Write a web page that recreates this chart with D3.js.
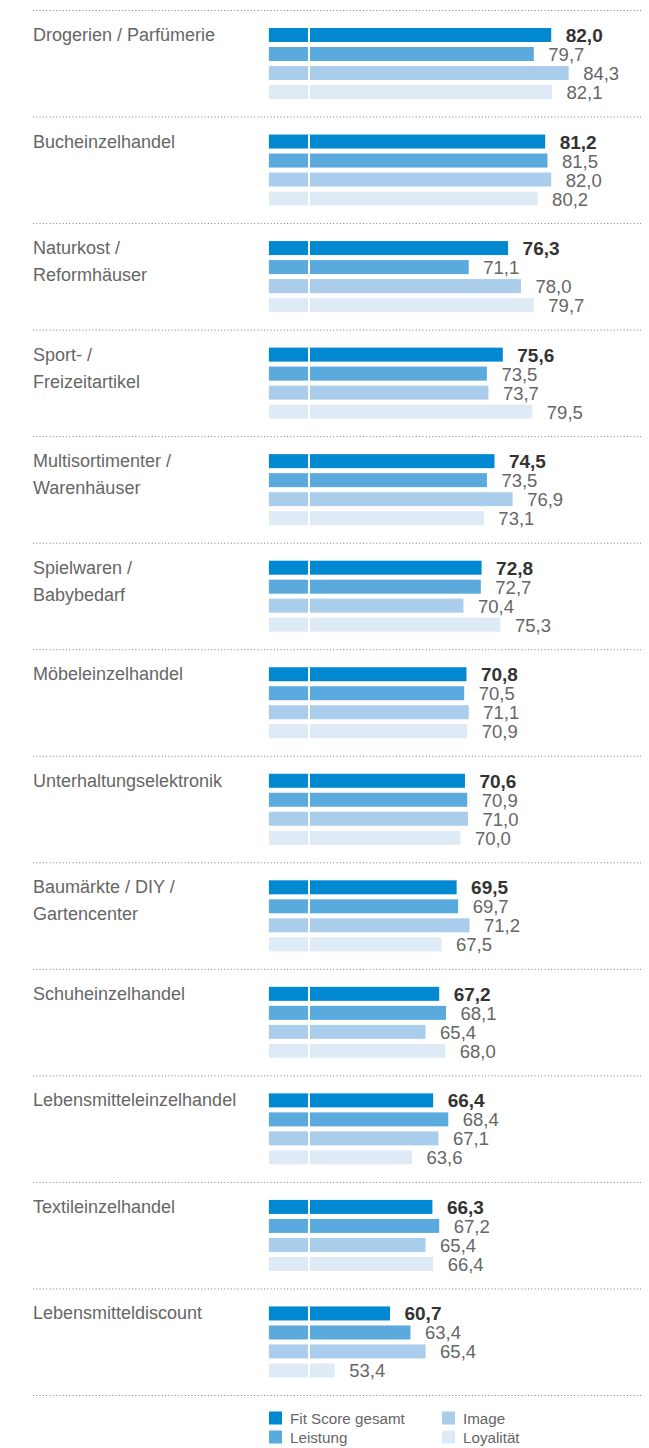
<!DOCTYPE html>
<html>
<head>
<meta charset="utf-8">
<script src="https://cdn.jsdelivr.net/npm/d3@7"></script>
<style>
  body { margin: 0; background: #fff; }
  text { font-family: "Liberation Sans", Arial, sans-serif; }
</style>
</head>
<body>
<div id="chart"></div>
<script>
let categories = [
  ["Drogerien / Parfümerie"],
  ["Bucheinzelhandel"],
  ["Naturkost /", "Reformhäuser"],
  ["Sport- /", "Freizeitartikel"],
  ["Multisortimenter /", "Warenhäuser"],
  ["Spielwaren /", "Babybedarf"],
  ["Möbeleinzelhandel"],
  ["Unterhaltungselektronik"],
  ["Baumärkte / DIY /", "Gartencenter"],
  ["Schuheinzelhandel"],
  ["Lebensmitteleinzelhandel"],
  ["Textileinzelhandel"],
  ["Lebensmitteldiscount"]
];
let series = ["Fit Score gesamt", "Leistung", "Image", "Loyalität"];
let fitScore = [82.0, 81.2, 76.3, 75.6, 74.5, 72.8, 70.8, 70.6, 69.5, 67.2, 66.4, 66.3, 60.7];
let leistung = [79.7, 81.5, 71.1, 73.5, 73.5, 72.7, 70.5, 70.9, 69.7, 68.1, 68.4, 67.2, 63.4];
let image    = [84.3, 82.0, 78.0, 73.7, 76.9, 70.4, 71.1, 71.0, 71.2, 65.4, 67.1, 65.4, 65.4];
let loyal    = [82.1, 80.2, 79.7, 79.5, 73.1, 75.3, 70.9, 70.0, 67.5, 68.0, 63.6, 66.4, 53.4];
let axisMin = 44.7, breakAt = 50;

let colorMap = {"Fit Score gesamt": "#0088d0", "Leistung": "#5aaadd", "Image": "#aacdec", "Loyalität": "#deebf7"};

let width = 649, height = 1448;

let svg = d3.select("#chart")
            .append("svg")
            .attr("width", width)
            .attr("height", height);

let names = categories.map(function(c) { return c.join(" "); });
let rows = names.map(function(n, i) {
  return {name: n, lines: categories[i],
          values: [fitScore[i], leistung[i], image[i], loyal[i]]};
});

let y = d3.scaleBand()
          .domain(names)
          .range([10, 1395])
          .paddingInner(0).paddingOuter(0);

let yIn = d3.scaleBand()
            .domain(series)
            .range([18, 89])
            .paddingInner(5 / 19)
            .paddingOuter(0);

let x = d3.scaleLinear()
          .domain([50, 85])
          .range([309, 309 + 35 * 7.57]);

// dotted separators
let seps = names.concat(["end"]);
svg.selectAll(".sep")
   .data(seps)
   .enter().append("line")
    .attr("class", "sep")
    .attr("x1", 33)
    .attr("x2", 641)
    .attr("y1", function(d) { return (d == "end" ? 1395 : y(d)) + 0.5; })
    .attr("y2", function(d) { return (d == "end" ? 1395 : y(d)) + 0.5; })
    .attr("stroke", "#7a7a7a")
    .attr("stroke-width", 1)
    .attr("stroke-dasharray", "1,2.3");

let g = svg.selectAll(".group")
           .data(rows)
           .enter().append("g")
           .attr("class", "group")
           .attr("transform", function(d) { return "translate(0," + y(d.name) + ")"; });

g.selectAll(".catlabel")
 .data(function(d) { return d.lines; })
 .enter().append("text")
  .attr("class", "catlabel")
  .attr("x", 33)
  .attr("y", function(d, i) { return 31 + i * 27; })
  .attr("font-size", "18px")
  .attr("fill", "#666")
  .text(function(d) { return d; });

g.selectAll(".bar")
 .data(function(d) { return d.values.map(function(v, i) { return {s: series[i], v: v}; }); })
 .enter().append("rect")
  .attr("class", "bar")
  .attr("x", x(axisMin))
  .attr("y", function(d) { return yIn(d.s); })
  .attr("width", function(d) { return x(d.v) - x(axisMin); })
  .attr("height", yIn.bandwidth())
  .attr("fill", function(d) { return colorMap[d.s]; });

// white break line at 50
g.append("rect")
 .attr("x", x(breakAt) - 1)
 .attr("y", yIn(series[0]))
 .attr("width", 2)
 .attr("height", yIn(series[3]) + yIn.bandwidth() - yIn(series[0]))
 .attr("fill", "#fff");

g.selectAll(".val")
 .data(function(d) { return d.values.map(function(v, i) { return {s: series[i], v: v}; }); })
 .enter().append("text")
  .attr("class", "val")
  .attr("x", function(d) { return x(d.v) + 14.5; })
  .attr("y", function(d) { return yIn(d.s) + yIn.bandwidth(); })
  .attr("font-size", function(d) { return d.s == series[0] ? "19px" : "18.5px"; })
  .attr("font-weight", function(d) { return d.s == series[0] ? "bold" : "normal"; })
  .attr("fill", function(d) { return d.s == series[0] ? "#333" : "#666"; })
  .text(function(d) { return d.v.toFixed(1).replace(".", ","); });

// legend
let legend = svg.selectAll(".legend")
                .data(series)
                .enter().append("g")
                .attr("class", "legend")
                .attr("transform", function(d, i) {
                  return "translate(" + (i < 2 ? 269 : 442) + "," + (1411.5 + (i % 2) * 19) + ")";
                });

legend.append("rect")
      .attr("width", 13)
      .attr("height", 13)
      .attr("fill", function(d) { return colorMap[d]; });

legend.append("text")
      .attr("x", 21)
      .attr("y", 12.5)
      .attr("font-size", "15.2px")
      .attr("fill", "#666")
      .text(function(d) { return d; });
</script>
</body>
</html>
